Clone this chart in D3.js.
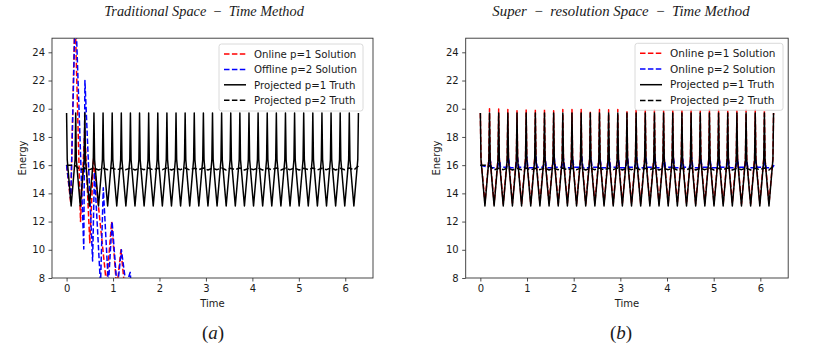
<!DOCTYPE html>
<html>
<head>
<meta charset="utf-8">
<script src="https://cdn.jsdelivr.net/npm/d3@7"></script>
<style>
  body { margin: 0; background: #fff; }
  svg { display: block; }
  text { font-family: "DejaVu Sans", sans-serif; fill: #1a1a1a; }
</style>
</head>
<body>
<script>
// ---- data ----
const nCycles = 32
const tEnd = 2 * Math.PI
const yTicks = [8, 10, 12, 14, 16, 18, 20, 22, 24]
const xTicks = [0, 1, 2, 3, 4, 5, 6]

// projected p=1 truth: value at every cycle peak (33) and cycle trough (32)
const truth1Peaks = [19.7, 19.7, 19.7, 19.7, 19.7, 19.7, 19.7, 19.7, 19.7, 19.7, 19.7, 19.7, 19.7, 19.7, 19.7, 19.7, 19.7,
  19.7, 19.7, 19.7, 19.7, 19.7, 19.7, 19.7, 19.7, 19.7, 19.7, 19.7, 19.7, 19.7, 19.7, 19.7, 19.7]
const truth1Troughs = [13.1, 13.1, 13.1, 13.1, 13.1, 13.1, 13.1, 13.1, 13.1, 13.1, 13.1, 13.1, 13.1, 13.1, 13.1, 13.1,
  13.1, 13.1, 13.1, 13.1, 13.1, 13.1, 13.1, 13.1, 13.1, 13.1, 13.1, 13.1, 13.1, 13.1, 13.1, 13.1]
const truth1Shoulder = 16.4

// projected p=2 truth: near-flat line
const truth2Peaks = [16.0, 15.95, 15.78, 15.8, 15.78, 15.8, 15.78, 15.8, 15.78, 15.8, 15.78, 15.8, 15.78, 15.8, 15.78, 15.8, 15.78,
  15.8, 15.78, 15.8, 15.78, 15.8, 15.78, 15.8, 15.78, 15.8, 15.78, 15.8, 15.78, 15.8, 15.78, 15.8, 15.95]
const truth2Troughs = [16.0, 15.66, 15.68, 15.66, 15.68, 15.66, 15.68, 15.66, 15.68, 15.66, 15.68, 15.66, 15.68, 15.66, 15.68, 15.66,
  15.68, 15.66, 15.68, 15.66, 15.68, 15.66, 15.68, 15.66, 15.68, 15.66, 15.68, 15.66, 15.68, 15.66, 15.68, 15.66]

// super-resolution online p=1 solution (right)
const srP1Peaks = [19.7, 20.0, 19.98, 19.95, 19.85, 19.95, 19.95, 19.95, 19.85, 19.95, 19.95, 19.95, 19.85, 19.95, 19.92, 19.95, 19.85,
  19.95, 19.95, 19.92, 19.85, 19.95, 19.95, 19.92, 19.85, 19.95, 19.95, 19.92, 19.85, 19.95, 19.92, 19.9, 19.7]
const srP1Troughs = [13.3, 13.25, 13.25, 13.3, 13.25, 13.25, 13.3, 13.25, 13.25, 13.3, 13.25, 13.25, 13.3, 13.25, 13.25, 13.3,
  13.25, 13.25, 13.3, 13.25, 13.25, 13.3, 13.25, 13.25, 13.3, 13.25, 13.25, 13.3, 13.25, 13.25, 13.3, 13.25]

// super-resolution online p=2 solution (right)
const srP2Peaks = [16.0, 16.45, 16.55, 16.6, 16.5, 16.6, 16.6, 16.55, 16.6, 16.5, 16.55, 16.6, 16.55, 16.5, 16.6, 16.55, 16.5,
  16.55, 16.6, 16.5, 16.55, 16.6, 16.5, 16.55, 16.5, 16.45, 16.5, 16.45, 16.4, 16.35, 16.3, 16.2, 16.0]
const srP2Troughs = [15.85, 15.82, 15.85, 15.82, 15.85, 15.82, 15.85, 15.82, 15.85, 15.82, 15.85, 15.82, 15.85, 15.82, 15.85, 15.82,
  15.85, 15.82, 15.85, 15.82, 15.85, 15.82, 15.85, 15.82, 15.85, 15.82, 15.85, 15.82, 15.85, 15.82, 15.85, 15.82]

// traditional method: solutions blow up then fall out of range (time, energy)
const tradOnlineP1 = [[0, 16.0], [0.09, 13.3], [0.18, 27.0], [0.3, 12.0], [0.39, 18.5], [0.5, 10.5], [0.58, 16.5],
  [0.86, 7.5], [0.97, 12.0], [1.08, 7.2], [1.17, 10.0], [1.26, 7.0]]
const tradOfflineP2 = [[0, 16.0], [0.09, 13.6], [0.19, 27.5], [0.37, 10.05], [0.395, 22.0], [0.56, 9.2], [0.6, 15.5],
  [0.73, 7.5], [0.79, 14.4], [0.9, 7.5], [0.98, 12.0], [1.09, 7.2], [1.18, 10.0], [1.28, 7.5], [1.37, 8.4], [1.4, 7.0]]

const legendA = ["Online p=1 Solution", "Offline p=2 Solution", "Projected p=1 Truth", "Projected p=2 Truth"]
const legendB = ["Online p=1 Solution", "Online p=2 Solution", "Projected p=1 Truth", "Projected p=2 Truth"]

// ---- helpers ----
const T = tEnd / nCycles
const cycleT = (k) => k * T

function zigzag(peaks, troughs, shoulder) {
  const pts = []
  peaks.forEach((p, k) => {
    pts.push([cycleT(k), p])
    if (k < troughs.length) {
      pts.push([cycleT(k) + 0.07 * T, shoulder])
      pts.push([cycleT(k) + 0.5 * T, troughs[k]])
      pts.push([cycleT(k) + 0.93 * T, shoulder])
    }
  })
  return pts
}
function flatLine(peaks, troughs) {
  const pts = []
  peaks.forEach((p, k) => {
    pts.push([cycleT(k), p])
    if (k < troughs.length) pts.push([cycleT(k) + 0.5 * T, troughs[k]])
  })
  return pts
}
// online p=2: short spike just after each truth peak, then settles
function spikes(peaks, troughs) {
  const pts = []
  peaks.forEach((p, k) => {
    if (k === 0) { pts.push([0, p]); return }
    pts.push([cycleT(k) - 0.12 * T, troughs[k - 1]])
    pts.push([cycleT(k) + 0.06 * T, p])
    if (k < troughs.length) pts.push([cycleT(k) + 0.2 * T, troughs[k]])
  })
  return pts
}

const truth1 = zigzag(truth1Peaks, truth1Troughs, truth1Shoulder)
const truth2 = flatLine(truth2Peaks, truth2Troughs)
const srP1 = zigzag(srP1Peaks, srP1Troughs, 16.5)
const srP2 = spikes(srP2Peaks, srP2Troughs)

const svg = d3.select("body").append("svg").attr("width", 830).attr("height", 345)

const styles = {
  red: { color: "#ff0000", dash: "5.5,2.4", width: 1.5 },
  blue: { color: "#0000ff", dash: "5.5,2.4", width: 1.5 },
  solid: { color: "#000000", dash: null, width: 1.5 },
  dashed: { color: "#000000", dash: "5.5,2.4", width: 1.5 },
}

function panel(opts) {
  const { x0, x1, y0, y1, series, legend, lg, id } = opts
  const xScale = d3.scaleLinear().domain([-0.314, 6.597]).range([x0, x1])
  const yScale = d3.scaleLinear().domain([8, 25]).range([y1, y0])
  const g = svg.append("g")

  g.append("clipPath").attr("id", id).append("rect")
    .attr("x", x0).attr("y", y0).attr("width", x1 - x0).attr("height", y1 - y0)

  const line = d3.line().x((d) => xScale(d[0])).y((d) => yScale(d[1]))
  const plot = g.append("g").attr("clip-path", `url(#${id})`)
  series.forEach((s) => {
    const st = styles[s.style]
    plot.append("path")
      .attr("d", line(s.data))
      .attr("fill", "none")
      .attr("stroke", st.color)
      .attr("stroke-width", st.width)
      .attr("stroke-dasharray", st.dash)
      .attr("stroke-linejoin", "round")
  })

  const xAxis = d3.axisBottom(xScale).tickValues(xTicks).tickSize(3.5).tickPadding(3.5).tickFormat(d3.format("d"))
  const yAxis = d3.axisLeft(yScale).tickValues(yTicks).tickSize(3.5).tickPadding(3.5).tickFormat(d3.format("d"))
  const gx = g.append("g").attr("transform", `translate(0,${y1})`).call(xAxis)
  const gy = g.append("g").attr("transform", `translate(${x0},0)`).call(yAxis)
  ;[gx, gy].forEach((a) => {
    a.select(".domain").remove()
    a.selectAll(".tick line").attr("stroke", "#222").attr("stroke-width", 0.8)
    a.selectAll(".tick text").attr("font-size", 10).attr("fill", "#1a1a1a")
      .style("font-family", '"DejaVu Sans", sans-serif')
  })

  g.append("rect").attr("x", x0).attr("y", y0).attr("width", x1 - x0).attr("height", y1 - y0)
    .attr("fill", "none").attr("stroke", "#333").attr("stroke-width", 0.9)

  g.append("text").attr("x", (x0 + x1) / 2).attr("y", y1 + 29).attr("text-anchor", "middle")
    .attr("font-size", 10).text("Time")
  g.append("text").attr("transform", `translate(${x0 - 26},${(y0 + y1) / 2}) rotate(-90)`)
    .attr("text-anchor", "middle").attr("font-size", 10).text("Energy")

  // legend
  const lgG = g.append("g")
  lgG.append("rect").attr("x", lg.x).attr("y", lg.y).attr("width", lg.w).attr("height", lg.h)
    .attr("rx", 2.5).attr("fill", "#fff").attr("fill-opacity", 0.85).attr("stroke", "#d0d0d0").attr("stroke-width", 0.8)
  legend.forEach((label, i) => {
    const st = styles[series[i].style]
    const yy = lg.y + 10 + i * lg.step
    lgG.append("line").attr("x1", lg.x + 5).attr("x2", lg.x + 27).attr("y1", yy).attr("y2", yy)
      .attr("stroke", st.color).attr("stroke-width", st.width).attr("stroke-dasharray", st.dash)
    lgG.append("text").attr("x", lg.x + 35).attr("y", yy + 3.7).attr("font-size", lg.fs).text(label)
  })

  // title and caption
  svg.append("text").attr("x", opts.titleX).attr("y", 16).attr("text-anchor", "middle")
    .style("font-family", '"Liberation Serif", serif').style("font-style", "italic")
    .attr("font-size", opts.titleFs).text(opts.title)
  const cap = svg.append("text").attr("x", opts.capX).attr("y", 339).attr("text-anchor", "middle")
    .style("font-family", '"Liberation Serif", serif').attr("font-size", 19)
  cap.append("tspan").text("(")
  cap.append("tspan").style("font-style", "italic").text(opts.cap)
  cap.append("tspan").text(")")
}

panel({
  id: "clipA", x0: 52, x1: 373, y0: 38.2, y1: 278,
  series: [
    { data: tradOnlineP1, style: "red" },
    { data: tradOfflineP2, style: "blue" },
    { data: truth1, style: "solid" },
    { data: truth2, style: "dashed" },
  ],
  legend: legendA,
  lg: { x: 219, y: 44, w: 144, h: 67, step: 15.4, fs: 10.2 },
  title: "Traditional Space \u2009\u2212\u2009 Time Method", titleX: 204, titleFs: 14.3,
  cap: "a", capX: 213,
})

panel({
  id: "clipB", x0: 465.7, x1: 788.2, y0: 38.2, y1: 278,
  series: [
    { data: srP1, style: "red" },
    { data: srP2, style: "blue" },
    { data: truth1, style: "solid" },
    { data: truth2, style: "dashed" },
  ],
  legend: legendB,
  lg: { x: 635, y: 43.3, w: 148, h: 67, step: 15.7, fs: 10.5 },
  title: "Super \u2009\u2212\u2009 resolution Space \u2009\u2212\u2009 Time Method", titleX: 621, titleFs: 14.8,
  cap: "b", capX: 621,
})
</script>
</body>
</html>
